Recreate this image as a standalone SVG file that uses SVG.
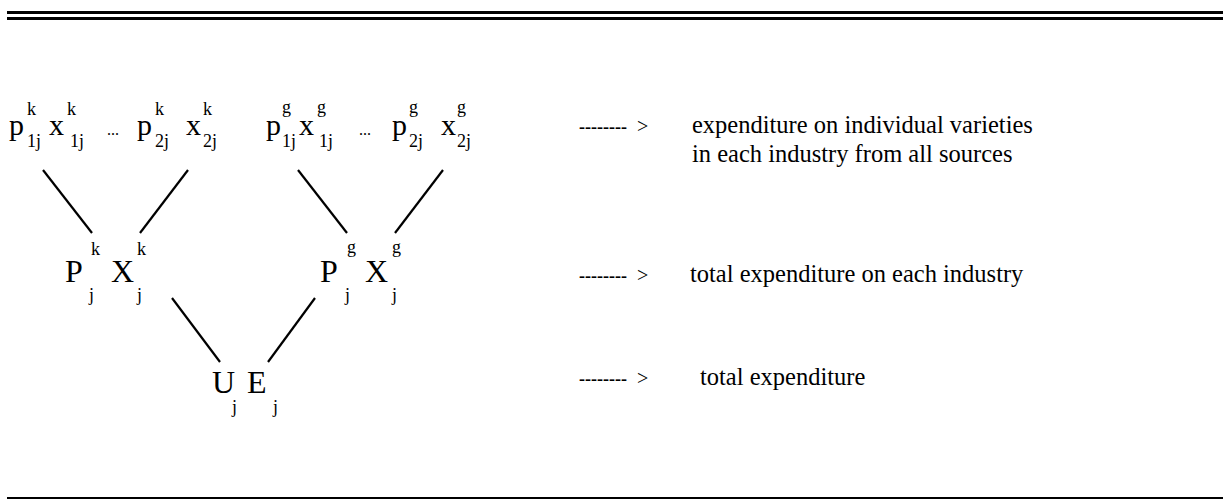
<svg xmlns="http://www.w3.org/2000/svg" width="1223" height="499" viewBox="0 0 1223 499">
<style>
.m{font-family:"Liberation Serif","Times New Roman",serif;fill:#000}
.big{font-size:30px}
.mid{font-size:32px}
.s{font-size:18px}
.dots{font-size:16px}
.lab{font-family:"Liberation Serif","Times New Roman",serif;font-size:24.5px;fill:#000}
.dash{font-family:"Liberation Serif","Times New Roman",serif;font-size:18px;font-weight:bold;fill:#000}
.gt{font-family:"Liberation Serif","Times New Roman",serif;font-size:20px;fill:#000}
.conn line{stroke:#000;stroke-width:2.2}
.rule{fill:#000}
</style>
<rect class="rule" x="7" y="11" width="1216" height="3"/>
<rect class="rule" x="7" y="17" width="1216" height="3"/>
<rect class="rule" x="7" y="497" width="1216" height="2"/>
<g id="node-top-k" class="m">
<text class="big" x="9" y="135">p</text><text class="s" x="27" y="115">k</text><text class="s" x="27" y="147">1j</text>
<text class="big" x="49" y="135">x</text><text class="s" x="67" y="115">k</text><text class="s" x="70" y="147">1j</text>
<text class="dots" x="107" y="135">...</text>
<text class="big" x="137" y="135">p</text><text class="s" x="155" y="115">k</text><text class="s" x="155" y="147">2j</text>
<text class="big" x="186" y="135">x</text><text class="s" x="203" y="115">k</text><text class="s" x="203" y="147">2j</text>
</g>
<g id="node-top-g" class="m">
<text class="big" x="266" y="135">p</text><text class="s" x="282" y="113">g</text><text class="s" x="282" y="147">1j</text>
<text class="big" x="299" y="135">x</text><text class="s" x="317" y="113">g</text><text class="s" x="319" y="147">1j</text>
<text class="dots" x="359" y="135">...</text>
<text class="big" x="392" y="135">p</text><text class="s" x="409" y="113">g</text><text class="s" x="409" y="147">2j</text>
<text class="big" x="441" y="135">x</text><text class="s" x="457" y="113">g</text><text class="s" x="457" y="147">2j</text>
</g>
<g id="node-mid-k" class="m">
<text class="mid" x="65" y="282">P</text><text class="s" x="91" y="255">k</text><text class="s" x="89" y="301">j</text>
<text class="mid" x="111" y="282">X</text><text class="s" x="137" y="255">k</text><text class="s" x="137" y="301">j</text>
</g>
<g id="node-mid-g" class="m">
<text class="mid" x="320" y="282">P</text><text class="s" x="347" y="253">g</text><text class="s" x="345" y="301">j</text>
<text class="mid" x="365" y="282">X</text><text class="s" x="392" y="253">g</text><text class="s" x="392" y="301">j</text>
</g>
<g id="node-bottom" class="m">
<text class="mid" x="212" y="393">U</text><text class="s" x="232" y="413">j</text>
<text class="mid" x="247" y="393">E</text><text class="s" x="273" y="413">j</text>
</g>
<g id="connectors" class="conn">
<line x1="43" y1="170" x2="92" y2="233"/>
<line x1="188" y1="170" x2="140" y2="233"/>
<line x1="298" y1="170" x2="347" y2="233"/>
<line x1="443" y1="170" x2="395" y2="233"/>
<line x1="172" y1="298" x2="220" y2="362"/>
<line x1="315" y1="298" x2="268" y2="362"/>
</g>
<g id="legend-1">
<text class="dash" x="579" y="133">--------</text><text class="gt" x="637" y="133">&gt;</text>
<text class="lab" x="692" y="133">expenditure on individual varieties</text>
<text class="lab" x="692" y="162">in each industry from all sources</text>
</g>
<g id="legend-2">
<text class="dash" x="579" y="282">--------</text><text class="gt" x="637" y="282">&gt;</text>
<text class="lab" x="690" y="282">total expenditure on each industry</text>
</g>
<g id="legend-3">
<text class="dash" x="579" y="385">--------</text><text class="gt" x="637" y="385">&gt;</text>
<text class="lab" x="700" y="385">total expenditure</text>
</g>
</svg>
